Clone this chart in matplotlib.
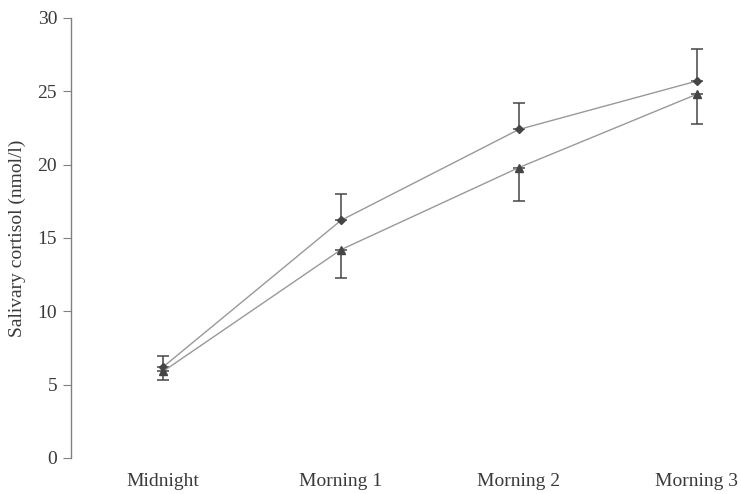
import matplotlib.pyplot as plt

plt.rcParams['font.family'] = ['Liberation Serif', 'DejaVu Serif']

times = ["Midnight", "Morning 1", "Morning 2", "Morning 3"]
# mean salivary cortisol per sampling time (nmol/l)
diamond_mean = [6.2, 16.2, 22.4, 25.7]
diamond_err = [0.75, 1.8, 1.8, 2.2]
triangle_mean = [5.9, 14.2, 19.8, 24.8]
triangle_err = [0.6, 1.9, 2.3, 2.0]

line_col = '#999999'
mark_col = '#454545'
text_col = '#3a3a3a'

fig = plt.figure(figsize=(7.41, 4.94), dpi=100)
ax = fig.add_axes([0.0958, 0.0729, 0.889, 0.8907])

x = list(range(len(times)))

# upper series: error bars only above the points
ax.errorbar(x, diamond_mean, yerr=[[0] * 4, diamond_err], fmt='none',
            ecolor=mark_col, elinewidth=1.1, capsize=4, capthick=1.1)
ax.plot(x, diamond_mean, color=line_col, lw=1.0, marker='D', ms=4.5,
        mfc=mark_col, mec=mark_col, zorder=3)

# lower series: error bars only below the points
ax.errorbar(x, triangle_mean, yerr=[triangle_err, [0] * 4], fmt='none',
            ecolor=mark_col, elinewidth=1.1, capsize=4, capthick=1.1)
ax.plot(x, triangle_mean, color=line_col, lw=1.0, marker='^', ms=6,
        mfc=mark_col, mec=mark_col, zorder=3)

ax.set_xlim(-0.517, 3.185)
ax.set_ylim(0, 30)
ax.set_yticks(range(0, 31, 5))
ax.set_xticks(x)
ax.set_xticklabels(times)

for s in ['top', 'right', 'bottom']:
    ax.spines[s].set_visible(False)
ax.spines['left'].set_color('#808080')
ax.spines['left'].set_linewidth(1.0)
ax.tick_params(axis='y', direction='out', length=6, color='#808080',
               labelsize=14, labelcolor=text_col, pad=4)
ax.tick_params(axis='x', length=0, labelsize=14, labelcolor=text_col, pad=11)

ax.set_ylabel("Salivary cortisol (nmol/l)", fontsize=14, color=text_col,
              labelpad=8)

fig.savefig("out.png", dpi=100)
